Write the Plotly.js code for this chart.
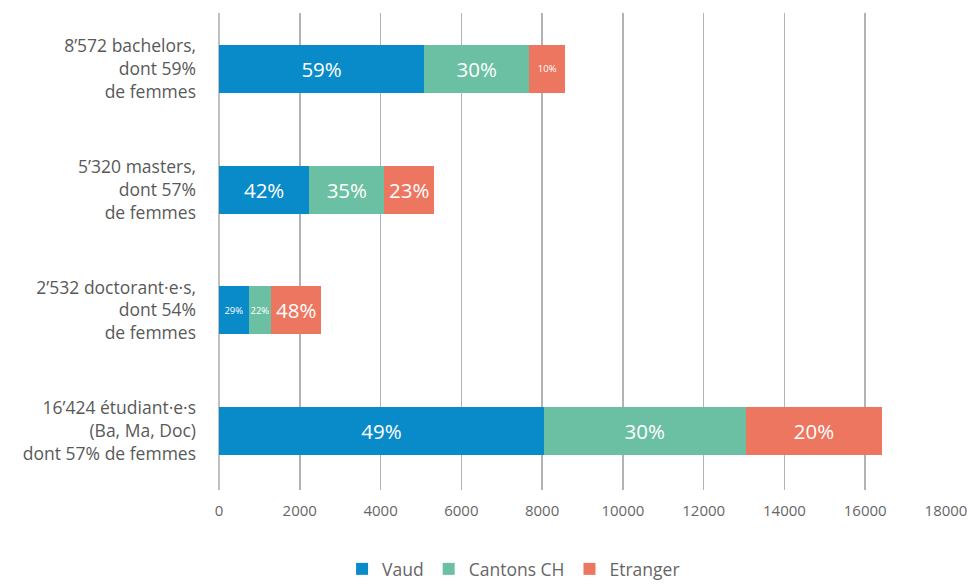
<!DOCTYPE html>
<html>
<head>
<meta charset="utf-8">
<script src="https://cdn.plot.ly/plotly-3.0.1.min.js"></script>
<style>html,body{margin:0;padding:0;background:#fff;}#chart{width:969px;height:587px;}</style>
</head>
<body>
<div id="chart"></div>
<script>
// Categories (bottom to top)
const categories = ["total", "doctorat", "master", "bachelor"];
const categoryLabels = [
  "16’424 étudiant·e·s<br>(Ba, Ma, Doc)<br>dont 57% de femmes",
  "2’532 doctorant·e·s,<br>dont 54%<br>de femmes",
  "5’320 masters,<br>dont 57%<br>de femmes",
  "8’572 bachelors,<br>dont 59%<br>de femmes"
];
const seriesNames = ["Vaud", "Cantons CH", "Etranger"];
const vaud = [8048, 734, 2234, 5080];
const cantons = [4988, 557, 1862, 2600];
const etranger = [3388, 1241, 1224, 892];
const vaudPct = ["49%", "29%", "42%", "59%"];
const cantonsPct = ["30%", "22%", "35%", "30%"];
const etrangerPct = ["20%", "48%", "23%", "10%"];
const xTicks = [0, 2000, 4000, 6000, 8000, 10000, 12000, 14000, 16000, 18000];

const colors = ["#0a8bc9", "#6bbfa3", "#ed7660"];
const FONT = "Open Sans, Noto Sans, sans-serif";

function sizes(labels, smallIdx) {
  return labels.map((_, i) => smallIdx.includes(i) ? 9.5 : 20.5);
}

const traces = [
  {name: seriesNames[0], x: vaud, text: vaudPct, sizesIdx: [1]},
  {name: seriesNames[1], x: cantons, text: cantonsPct, sizesIdx: [1]},
  {name: seriesNames[2], x: etranger, text: etrangerPct, sizesIdx: [3]}
].map((t, k) => ({
  type: "bar",
  orientation: "h",
  name: t.name,
  y: categories,
  x: t.x,
  text: t.text,
  textposition: "inside",
  insidetextanchor: "middle",
  textangle: 0,
  constraintext: "none",
  textfont: {color: "#ffffff", size: sizes(t.text, t.sizesIdx), family: FONT},
  marker: {color: colors[k], line: {width: 0}},
  hoverinfo: "none"
}));

const layout = {
  width: 969,
  height: 587,
  barmode: "stack",
  bargap: 0.6,
  margin: {l: 219, r: 23, t: 13, b: 97},
  paper_bgcolor: "#ffffff",
  plot_bgcolor: "#ffffff",
  font: {family: FONT, color: "#595959"},
  xaxis: {
    range: [0, 18000],
    tickvals: xTicks,
    ticktext: xTicks.map(String),
    showgrid: true,
    gridcolor: "#b3b3b3",
    gridwidth: 1.5,
    zeroline: true,
    zerolinecolor: "#c0c0c0",
    zerolinewidth: 1.5,
    showline: false,
    ticks: "",
    ticklabelstandoff: 10,
    tickfont: {size: 15, color: "#666666", family: FONT},
    fixedrange: true
  },
  yaxis: {
    type: "category",
    categoryorder: "array",
    categoryarray: categories,
    range: [-0.489, 3.464],
    tickvals: categories,
    ticktext: categoryLabels,
    tickfont: {size: 17.5, color: "#595959", family: FONT},
    showgrid: false,
    zeroline: false,
    showline: false,
    ticks: "",
    ticklabelstandoff: 22,
    automargin: false,
    fixedrange: true
  },
  legend: {
    orientation: "h",
    xref: "container",
    yref: "container",
    x: 0.53,
    xanchor: "center",
    y: -0.011,
    yanchor: "bottom",
    font: {size: 17.5, color: "#666666", family: FONT},
    itemwidth: 30,
    traceorder: "normal"
  },
  showlegend: true
};

Plotly.newPlot("chart", traces, layout, {displayModeBar: false, staticPlot: true});
</script>
</body>
</html>
